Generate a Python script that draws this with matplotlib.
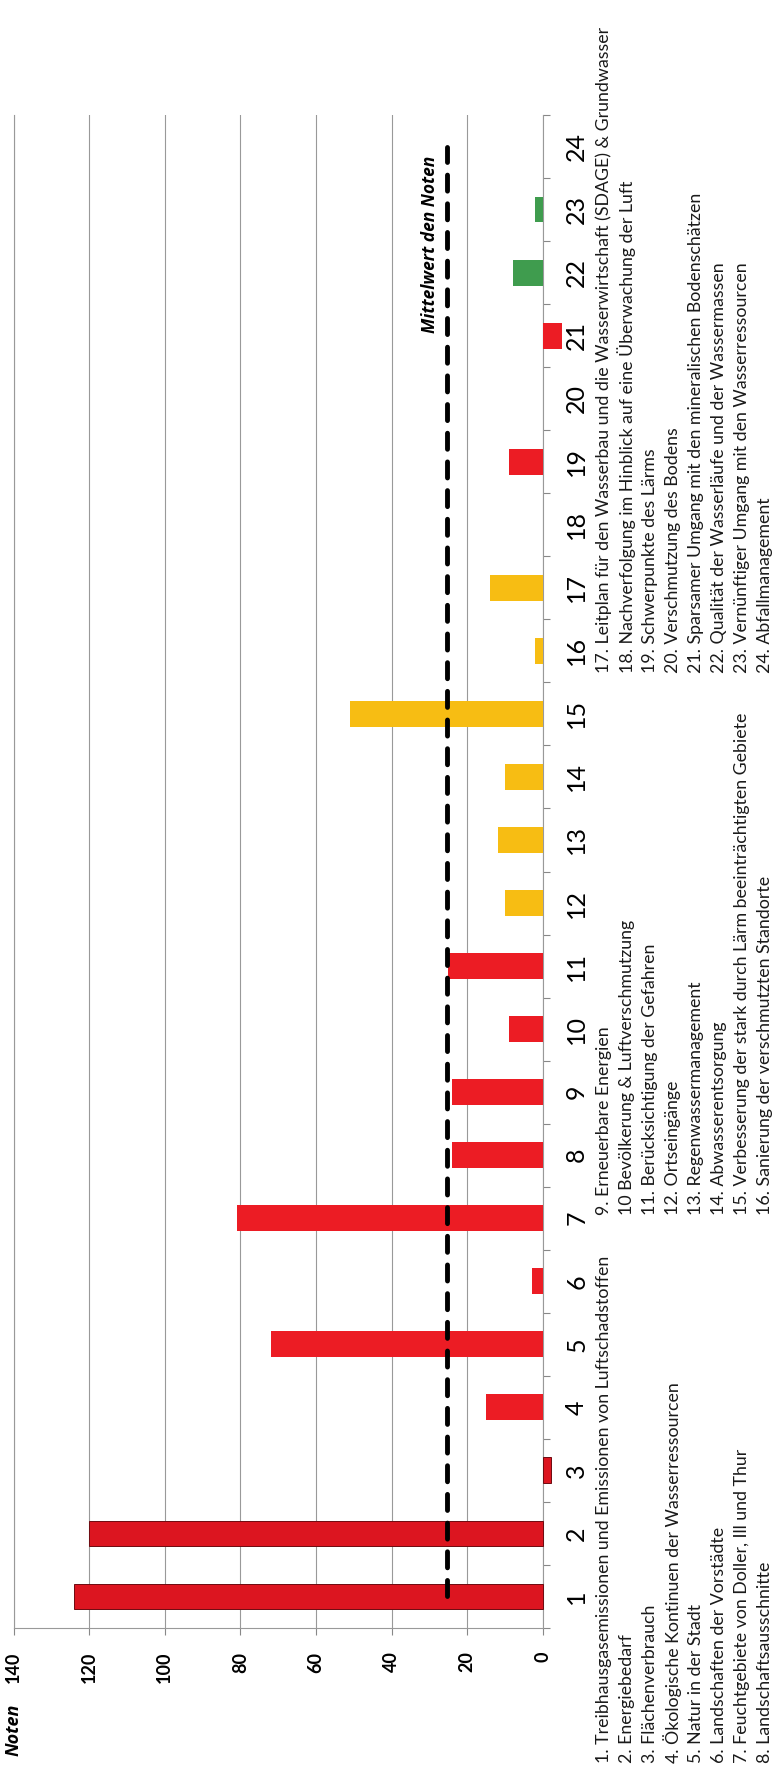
import numpy as np
import matplotlib
matplotlib.use("Agg")
import matplotlib.pyplot as plt
from matplotlib.transforms import blended_transform_factory

plt.rcParams['font.family'] = ['Lato', 'DejaVu Sans']

# Daten
kategorien = list(range(1, 25))
noten = [124, 120, -2, 15, 72, 3, 81, 24, 24, 9, 25, 10,
         12, 10, 51, 2, 14, 0, 9, 0, -5, 8, 2, 0]
ampel = ['rot'] * 11 + ['gelb'] * 6 + ['rot'] * 4 + ['gruen'] * 3
noten_ticks = [0, 20, 40, 60, 80, 100, 120, 140]

legende_1 = ["1. Treibhausgasemissionen und Emissionen von Luftschadstoffen",
             "2. Energiebedarf",
             "3. Flächenverbrauch",
             "4. Ökologische Kontinuen der Wasserressourcen",
             "5. Natur in der Stadt",
             "6. Landschaften der Vorstädte",
             "7. Feuchtgebiete von Doller, Ill und Thur",
             "8. Landschaftsausschnitte"]
legende_2 = ["9. Erneuerbare Energien",
             "10 Bevölkerung & Luftverschmutzung",
             "11. Berücksichtigung der Gefahren",
             "12. Ortseingänge",
             "13. Regenwassermanagement",
             "14. Abwasserentsorgung",
             "15. Verbesserung der stark durch Lärm beeinträchtigten Gebiete",
             "16. Sanierung der verschmutzten Standorte"]
legende_3 = ["17. Leitplan für den Wasserbau und die Wasserwirtschaft (SDAGE) & Grundwasser",
             "18. Nachverfolgung im Hinblick auf eine Überwachung der Luft",
             "19. Schwerpunkte des Lärms",
             "20. Verschmutzung des Bodens",
             "21. Sparsamer Umgang mit den mineralischen Bodenschätzen",
             "22. Qualität der Wasserläufe und der Wassermassen",
             "23. Vernünftiger Umgang mit den Wasserressourcen",
             "24. Abfallmanagement"]

farbtabelle = {'rot': '#ec1c24', 'gelb': '#f7bd13', 'gruen': '#3f9c4e'}
W, H = 774, 1767

fig = plt.figure(figsize=(W / 100, H / 100), dpi=100)
ax = fig.add_axes([13.5 / W, 1 - 1628 / H, (543 - 13.5) / W, (1628 - 115) / H])

# bars (chart is turned by 90 degrees: values run to the left)
farben = [farbtabelle[a] for a in ampel]
bars = ax.barh(kategorien, noten, height=0.41, color=farben, zorder=3)
for b in bars[:3]:
    b.set_facecolor('#dc1520')
    b.set_edgecolor('#6e0a10')
    b.set_linewidth(0.7)
for b in bars:
    b.set_clip_on(False)

# mean line
mittel = np.mean(noten)
ax.plot([mittel] * len(kategorien), kategorien, color='black', lw=3.5,
        dashes=(3.3, 2.6), dash_capstyle='round', zorder=4, clip_on=False)
ax.annotate("Mittelwert den Noten", xy=(mittel, 23.85), xytext=(-6, 0),
            textcoords='offset points', rotation=90, ha='right', va='top',
            fontsize=12.5, fontweight='bold', fontstyle='italic',
            family=['Open Sans', 'DejaVu Sans'])

ax.set_xlim(140, 0)
ax.set_ylim(0.5, 24.5)

ax.set_xticks(noten_ticks)
ax.set_xticklabels([str(t) for t in noten_ticks], rotation=90,
                   fontsize=13, fontweight='bold')
ax.tick_params(axis='x', direction='out', length=5, color='#888888', pad=12)
ax.grid(axis='x', color='#999999', lw=0.8, zorder=0)

ax.yaxis.tick_right()
ax.set_yticks(np.arange(0.5, 25, 1))
ax.set_yticklabels([])
ax.set_yticks(kategorien, minor=True)
ax.set_yticklabels([str(k) for k in kategorien], minor=True, rotation=90,
                   fontsize=18, va='center')
ax.tick_params(axis='y', which='major', direction='out', length=5, color='#888888')
ax.tick_params(axis='y', which='minor', length=0, pad=16)

for s in ['left', 'bottom', 'right']:
    ax.spines[s].set_color('#999999')
    ax.spines[s].set_linewidth(0.8)
ax.spines['top'].set_visible(False)

tr = blended_transform_factory(ax.transData, ax.transAxes)
ax.text(140, -0.05, "Noten", transform=tr, rotation=90, ha='center', va='top',
        fontsize=13, fontweight='bold', fontstyle='italic',
        family=['Open Sans', 'DejaVu Sans'])

# legend columns
for spalte, start in [(legende_1, 1763), (legende_2, 1215), (legende_3, 673)]:
    for i, txt in enumerate(spalte):
        fig.text((604 + 23 * i) / W, 1 - start / H, txt, rotation=90,
                 ha='center', va='bottom', fontsize=12.8, color='#1a1a1a')

fig.savefig("out.png", dpi=100)
